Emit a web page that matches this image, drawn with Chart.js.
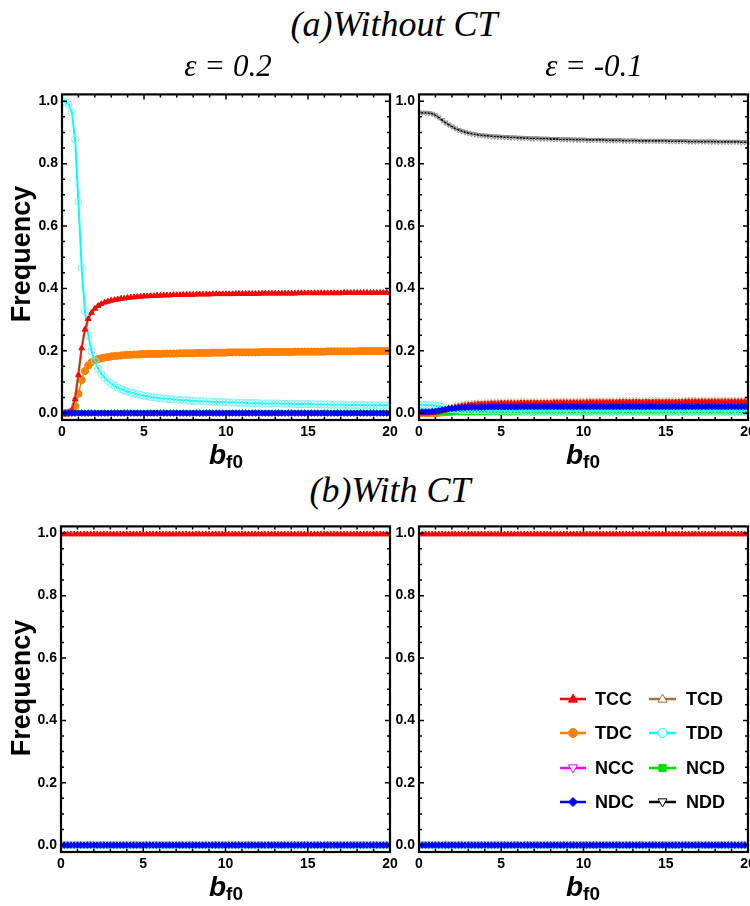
<!DOCTYPE html>
<html>
<head>
<meta charset="utf-8">
<script src="https://cdn.jsdelivr.net/npm/chart.js"></script>
<style>
body { margin:0; width:750px; height:906px; overflow:hidden; background:#fff; position:relative; font-family:"Liberation Sans", Arial, sans-serif; }
canvas { position:absolute; }
.t { position:absolute; white-space:nowrap; transform:translateX(-50%); line-height:1; color:#000; }
.serif { font-family:"Liberation Serif", "Times New Roman", serif; font-style:italic; }
.ylab { position:absolute; font-weight:bold; font-size:27px; line-height:1; transform:translate(-50%,-50%) rotate(-90deg); white-space:nowrap; }
.xlab { font-weight:bold; font-size:28px; font-style:italic; }
.xlab span { font-size:19px; font-style:normal; position:relative; top:4px; }
</style>
</head>
<body>
<canvas id="aL" width="392" height="368" style="left:10px;top:82px"></canvas>
<canvas id="aR" width="380" height="368" style="left:380px;top:82px"></canvas>
<canvas id="bL" width="392" height="368" style="left:10px;top:514px"></canvas>
<canvas id="bR" width="380" height="368" style="left:380px;top:514px"></canvas>

<div class="t serif" style="left:394px;top:6px;font-size:36px">(a)Without CT</div>
<div class="t serif" style="left:228px;top:50px;font-size:31px">ε = 0.2</div>
<div class="t serif" style="left:594px;top:50px;font-size:31px">ε = -0.1</div>
<div class="t serif" style="left:390px;top:472px;font-size:36px">(b)With CT</div>
<div class="ylab" style="left:21px;top:254px">Frequency</div>
<div class="ylab" style="left:21px;top:688px">Frequency</div>
<div class="t xlab" style="left:226px;top:441px">b<span>f0</span></div>
<div class="t xlab" style="left:583px;top:441px">b<span>f0</span></div>
<div class="t xlab" style="left:226px;top:873px">b<span>f0</span></div>
<div class="t xlab" style="left:583px;top:873px">b<span>f0</span></div>

<script>
// b_f0 sample points
const bf0 = [0,
  0.2,0.4,0.6,0.8,1, 1.2,1.4,1.6,1.8,2, 2.2,2.4,2.6,2.8,3, 3.2,3.4,3.6,3.8,4, 4.2,4.4,4.6,4.8,5,
  5.2,5.4,5.6,5.8,6, 6.2,6.4,6.6,6.8,7, 7.2,7.4,7.6,7.8,8, 8.2,8.4,8.6,8.8,9, 9.2,9.4,9.6,9.8,10,
  10.2,10.4,10.6,10.8,11, 11.2,11.4,11.6,11.8,12, 12.2,12.4,12.6,12.8,13, 13.2,13.4,13.6,13.8,14, 14.2,14.4,14.6,14.8,15,
  15.2,15.4,15.6,15.8,16, 16.2,16.4,16.6,16.8,17, 17.2,17.4,17.6,17.8,18, 18.2,18.4,18.6,18.8,19, 19.2,19.4,19.6,19.8,20];

const seriesNames = ['TCC', 'TCD', 'TDC', 'TDD', 'NCC', 'NCD', 'NDC', 'NDD'];

const zero = [0,
  0,0,0,0,0, 0,0,0,0,0, 0,0,0,0,0, 0,0,0,0,0, 0,0,0,0,0,
  0,0,0,0,0, 0,0,0,0,0, 0,0,0,0,0, 0,0,0,0,0, 0,0,0,0,0,
  0,0,0,0,0, 0,0,0,0,0, 0,0,0,0,0, 0,0,0,0,0, 0,0,0,0,0,
  0,0,0,0,0, 0,0,0,0,0, 0,0,0,0,0, 0,0,0,0,0, 0,0,0,0,0];

// (a) without CT, eps = 0.2
const aL_TCC = [0,
  0,0.002,0.01,0.045,0.122, 0.208,0.268,0.302,0.322,0.335, 0.344,0.35,0.355,0.358,0.361, 0.363,0.365,0.367,0.368,0.37, 0.371,0.372,0.373,0.374,0.375,
  0.375,0.376,0.376,0.377,0.377, 0.378,0.378,0.378,0.379,0.379, 0.379,0.38,0.38,0.38,0.38, 0.381,0.381,0.381,0.381,0.381, 0.382,0.382,0.382,0.382,0.382,
  0.382,0.382,0.383,0.383,0.383, 0.383,0.383,0.383,0.383,0.383, 0.384,0.384,0.384,0.384,0.384, 0.384,0.384,0.384,0.384,0.384, 0.384,0.385,0.385,0.385,0.385,
  0.385,0.385,0.385,0.385,0.385, 0.385,0.385,0.385,0.385,0.385, 0.386,0.386,0.386,0.386,0.386, 0.386,0.386,0.386,0.386,0.386, 0.386,0.386,0.386,0.386,0.386];
const aL_TCD = [0,
  0,0.003,0.012,0.05,0.125, 0.21,0.268,0.301,0.321,0.334, 0.344,0.35,0.355,0.358,0.361, 0.363,0.365,0.367,0.368,0.37, 0.371,0.372,0.373,0.374,0.375,
  0.375,0.376,0.376,0.377,0.377, 0.378,0.378,0.378,0.379,0.379, 0.379,0.38,0.38,0.38,0.38, 0.381,0.381,0.381,0.381,0.381, 0.382,0.382,0.382,0.382,0.382,
  0.382,0.382,0.383,0.383,0.383, 0.383,0.383,0.383,0.383,0.383, 0.384,0.384,0.384,0.384,0.384, 0.384,0.384,0.384,0.384,0.384, 0.384,0.385,0.385,0.385,0.385,
  0.385,0.385,0.385,0.385,0.385, 0.385,0.385,0.385,0.385,0.385, 0.386,0.386,0.386,0.386,0.386, 0.386,0.386,0.386,0.386,0.386, 0.386,0.386,0.386,0.386,0.386];
const aL_TDC = [0,
  0,0.001,0.006,0.022,0.062, 0.106,0.135,0.153,0.163,0.169, 0.173,0.176,0.178,0.18,0.182, 0.183,0.184,0.185,0.186,0.187, 0.187,0.188,0.188,0.189,0.189,
  0.19,0.19,0.19,0.19,0.19, 0.191,0.191,0.191,0.191,0.191, 0.192,0.192,0.192,0.192,0.192, 0.193,0.193,0.193,0.193,0.193, 0.194,0.194,0.194,0.194,0.194,
  0.195,0.195,0.195,0.195,0.195, 0.195,0.195,0.195,0.195,0.195, 0.196,0.196,0.196,0.196,0.196, 0.196,0.196,0.196,0.196,0.196, 0.197,0.197,0.197,0.197,0.197,
  0.197,0.197,0.197,0.197,0.197, 0.198,0.198,0.198,0.198,0.198, 0.198,0.198,0.198,0.198,0.198, 0.199,0.199,0.199,0.199,0.199, 0.199,0.199,0.199,0.199,0.199];
const aL_TDD = [1.0,
  0.998,0.99,0.965,0.877,0.678, 0.466,0.328,0.25,0.2,0.167, 0.143,0.126,0.113,0.103,0.095, 0.088,0.082,0.077,0.073,0.069, 0.066,0.063,0.06,0.058,0.056,
  0.054,0.052,0.051,0.049,0.048, 0.047,0.046,0.045,0.044,0.043, 0.042,0.041,0.041,0.04,0.039, 0.039,0.038,0.038,0.037,0.037, 0.036,0.036,0.035,0.035,0.035,
  0.034,0.034,0.034,0.033,0.033, 0.033,0.032,0.032,0.032,0.032, 0.031,0.031,0.031,0.031,0.031, 0.031,0.03,0.03,0.03,0.03, 0.029,0.029,0.029,0.029,0.029,
  0.029,0.028,0.028,0.028,0.028, 0.028,0.027,0.027,0.027,0.027, 0.027,0.026,0.026,0.026,0.026, 0.026,0.026,0.025,0.025,0.025, 0.025,0.025,0.025,0.025,0.025];

// (a) without CT, eps = -0.1
const aR_TCC = [0,
  0,0,0,0.001,0.002, 0.004,0.007,0.01,0.013,0.016, 0.018,0.02,0.022,0.023,0.025, 0.026,0.027,0.028,0.028,0.029, 0.029,0.03,0.03,0.03,0.031,
  0.031,0.031,0.031,0.031,0.031, 0.032,0.032,0.032,0.032,0.032, 0.032,0.032,0.032,0.032,0.032, 0.033,0.033,0.033,0.033,0.033, 0.033,0.033,0.033,0.033,0.033,
  0.034,0.034,0.034,0.034,0.034, 0.034,0.034,0.034,0.034,0.034, 0.035,0.035,0.035,0.035,0.035, 0.035,0.035,0.035,0.035,0.035, 0.035,0.035,0.035,0.035,0.035,
  0.035,0.035,0.035,0.035,0.035, 0.036,0.036,0.036,0.036,0.036, 0.036,0.036,0.036,0.036,0.036, 0.036,0.036,0.036,0.036,0.036, 0.036,0.036,0.036,0.036,0.036];
const aR_TCD = [0,
  0,0,0,0.001,0.003, 0.006,0.01,0.014,0.018,0.021, 0.024,0.026,0.028,0.03,0.031, 0.032,0.033,0.034,0.034,0.035, 0.035,0.036,0.036,0.036,0.037,
  0.037,0.037,0.037,0.037,0.037, 0.038,0.038,0.038,0.038,0.038, 0.038,0.038,0.038,0.038,0.038, 0.039,0.039,0.039,0.039,0.039, 0.039,0.039,0.039,0.039,0.039,
  0.04,0.04,0.04,0.04,0.04, 0.04,0.04,0.04,0.04,0.04, 0.041,0.041,0.041,0.041,0.041, 0.041,0.041,0.041,0.041,0.041, 0.041,0.041,0.041,0.041,0.041,
  0.041,0.041,0.041,0.041,0.041, 0.042,0.042,0.042,0.042,0.042, 0.042,0.042,0.042,0.042,0.042, 0.042,0.042,0.042,0.042,0.042, 0.042,0.042,0.042,0.042,0.042];
const aR_TDC = [0,
  0,0,0,0,0, 0.001,0.002,0.003,0.004,0.005, 0.006,0.006,0.006,0.006,0.006, 0.007,0.007,0.007,0.007,0.007, 0.007,0.007,0.007,0.007,0.007,
  0.008,0.008,0.008,0.008,0.008, 0.008,0.008,0.008,0.008,0.008, 0.008,0.008,0.008,0.008,0.008, 0.008,0.008,0.008,0.008,0.008, 0.008,0.008,0.008,0.008,0.008,
  0.008,0.008,0.008,0.008,0.008, 0.008,0.008,0.008,0.008,0.008, 0.008,0.008,0.008,0.008,0.008, 0.008,0.008,0.008,0.008,0.008, 0.008,0.008,0.008,0.008,0.008,
  0.008,0.008,0.008,0.008,0.008, 0.008,0.008,0.008,0.008,0.008, 0.008,0.008,0.008,0.008,0.008, 0.008,0.008,0.008,0.008,0.008, 0.008,0.008,0.008,0.008,0.008];
const aR_TDD = [0.026,
  0.026,0.026,0.026,0.025,0.024, 0.022,0.02,0.017,0.015,0.013, 0.012,0.011,0.01,0.01,0.009, 0.009,0.009,0.009,0.009,0.009, 0.008,0.008,0.008,0.008,0.008,
  0.008,0.008,0.008,0.008,0.008, 0.007,0.007,0.007,0.007,0.007, 0.007,0.007,0.007,0.007,0.007, 0.007,0.007,0.007,0.007,0.007, 0.007,0.007,0.007,0.007,0.007,
  0.007,0.007,0.007,0.007,0.007, 0.007,0.007,0.007,0.007,0.007, 0.007,0.007,0.007,0.007,0.007, 0.007,0.007,0.007,0.007,0.007, 0.007,0.007,0.007,0.007,0.007,
  0.007,0.007,0.007,0.007,0.007, 0.007,0.007,0.007,0.007,0.007, 0.007,0.007,0.007,0.007,0.007, 0.007,0.007,0.007,0.007,0.007, 0.007,0.007,0.007,0.007,0.007];
const aR_NCD = [0.001,
  0.001,0.001,0.001,0.001,0.001, 0.002,0.002,0.002,0.002,0.002, 0.003,0.003,0.003,0.003,0.003, 0.003,0.003,0.003,0.003,0.003, 0.003,0.003,0.003,0.003,0.003,
  0.003,0.003,0.003,0.003,0.003, 0.003,0.003,0.003,0.003,0.003, 0.003,0.003,0.003,0.003,0.003, 0.003,0.003,0.003,0.003,0.003, 0.003,0.003,0.003,0.003,0.003,
  0.003,0.003,0.003,0.003,0.003, 0.003,0.003,0.003,0.003,0.003, 0.003,0.003,0.003,0.003,0.003, 0.003,0.003,0.003,0.003,0.003, 0.003,0.003,0.003,0.003,0.003,
  0.003,0.003,0.003,0.003,0.003, 0.003,0.003,0.003,0.003,0.003, 0.003,0.003,0.003,0.003,0.003, 0.003,0.003,0.003,0.003,0.003, 0.003,0.003,0.003,0.003,0.003];
const aR_NDC = [0.004,
  0.004,0.004,0.004,0.005,0.006, 0.008,0.01,0.012,0.014,0.015, 0.016,0.017,0.018,0.018,0.019, 0.019,0.019,0.019,0.019,0.019, 0.02,0.02,0.02,0.02,0.02,
  0.02,0.02,0.02,0.02,0.02, 0.021,0.021,0.021,0.021,0.021, 0.021,0.021,0.021,0.021,0.021, 0.021,0.021,0.021,0.021,0.021, 0.021,0.021,0.021,0.021,0.021,
  0.021,0.021,0.021,0.021,0.021, 0.021,0.021,0.021,0.021,0.021, 0.021,0.021,0.021,0.021,0.021, 0.021,0.021,0.021,0.021,0.021, 0.021,0.021,0.021,0.021,0.021,
  0.021,0.021,0.021,0.021,0.021, 0.021,0.021,0.021,0.021,0.021, 0.021,0.021,0.021,0.021,0.021, 0.021,0.021,0.021,0.021,0.021, 0.021,0.021,0.021,0.021,0.021];
const aR_NDD = [0.963,
  0.963,0.963,0.962,0.96,0.955, 0.948,0.94,0.932,0.925,0.919, 0.913,0.908,0.904,0.901,0.898, 0.896,0.894,0.892,0.891,0.89, 0.889,0.888,0.887,0.887,0.886,
  0.885,0.885,0.884,0.884,0.883, 0.883,0.882,0.882,0.881,0.881, 0.881,0.88,0.88,0.88,0.879, 0.879,0.879,0.878,0.878,0.878, 0.878,0.877,0.877,0.877,0.877,
  0.876,0.876,0.876,0.876,0.876, 0.876,0.875,0.875,0.875,0.875, 0.875,0.874,0.874,0.874,0.874, 0.874,0.873,0.873,0.873,0.873, 0.873,0.873,0.873,0.873,0.873,
  0.872,0.872,0.872,0.872,0.872, 0.872,0.871,0.871,0.871,0.871, 0.871,0.871,0.871,0.871,0.871, 0.87,0.87,0.87,0.87,0.87, 0.87,0.87,0.869,0.869,0.869];

// (b) with CT (both eps values)
const b_TCC = [0.997,
  0.997,0.997,0.997,0.997,0.997, 0.997,0.997,0.997,0.997,0.997, 0.997,0.997,0.997,0.997,0.997, 0.997,0.997,0.997,0.997,0.997, 0.997,0.997,0.997,0.997,0.997,
  0.997,0.997,0.997,0.997,0.997, 0.997,0.997,0.997,0.997,0.997, 0.997,0.997,0.997,0.997,0.997, 0.997,0.997,0.997,0.997,0.997, 0.997,0.997,0.997,0.997,0.997,
  0.997,0.997,0.997,0.997,0.997, 0.997,0.997,0.997,0.997,0.997, 0.997,0.997,0.997,0.997,0.997, 0.997,0.997,0.997,0.997,0.997, 0.997,0.997,0.997,0.997,0.997,
  0.997,0.997,0.997,0.997,0.997, 0.997,0.997,0.997,0.997,0.997, 0.997,0.997,0.997,0.997,0.997, 0.997,0.997,0.997,0.997,0.997, 0.997,0.997,0.997,0.997,0.997];

const xMajor = [0, 5, 10, 15, 20];
const xMinor = [1, 2, 3, 4, 6, 7, 8, 9, 11, 12, 13, 14, 16, 17, 18, 19];
const yMajor = [0, 0.2, 0.4, 0.6, 0.8, 1.0];
const yMinor = [0.05, 0.1, 0.15, 0.25, 0.3, 0.35, 0.45, 0.5, 0.55, 0.65, 0.7, 0.75, 0.85, 0.9, 0.95];

// lower order = drawn on top
const styles = {
  TCC: { color: '#ff0000', fill: '#ff0000', shape: 'triangle', rot: 0, r: 3.2, order: 1, lw: 1 },
  TCD: { color: '#a0703c', fill: 'rgba(0,0,0,0)', shape: 'triangle', rot: 0, r: 3, order: 2, lw: 2.4, pcolor: '#d9b08c' },
  TDC: { color: '#ff8000', fill: '#ff8000', shape: 'circle', rot: 0, r: 3.6, order: 5.5, lw: 1.5 },
  TDD: { color: '#00ffff', fill: 'rgba(0,0,0,0)', shape: 'circle', rot: 0, r: 3.6, order: 4, lw: 2, pcolor: '#80f0f0' },
  NCC: { color: '#ff00ff', fill: 'rgba(0,0,0,0)', shape: 'triangle', rot: 180, r: 3, order: 7, lw: 1.5, pcolor: '#ff99ff' },
  NCD: { color: '#00e000', fill: '#00e000', shape: 'rect', rot: 0, r: 3.2, order: 5, lw: 1.5 },
  NDC: { color: '#0000ff', fill: '#0000ff', shape: 'rectRot', rot: 0, r: 3.2, order: 0, lw: 1.5 },
  NDD: { color: '#000000', fill: 'rgba(0,0,0,0)', shape: 'triangle', rot: 180, r: 3, order: 6, lw: 1.8, pcolor: '#8a8a8a' }
};

function mk(name, vals) {
  const st = styles[name];
  return {
    label: name,
    data: vals.map((v, i) => ({ x: bf0[i], y: v })),
    borderColor: st.color,
    borderWidth: st.lw,
    backgroundColor: st.fill,
    pointBorderColor: st.pcolor || st.color,
    pointBackgroundColor: st.fill,
    pointStyle: st.shape,
    pointRotation: st.rot,
    pointRadius: st.r,
    pointBorderWidth: 1,
    order: st.order
  };
}

const framePlugin = {
  id: 'frame',
  afterDraw(chart) {
    const { ctx, chartArea: a, scales: { x, y } } = chart;
    ctx.save();
    ctx.strokeStyle = '#000';
    ctx.lineWidth = 1.5;
    ctx.beginPath();
    function tx(v, len) {
      const px = x.getPixelForValue(v);
      ctx.moveTo(px, a.bottom); ctx.lineTo(px, a.bottom - len);
      ctx.moveTo(px, a.top); ctx.lineTo(px, a.top + len);
    }
    function ty(v, len) {
      const py = y.getPixelForValue(v);
      ctx.moveTo(a.left, py); ctx.lineTo(a.left + len, py);
      ctx.moveTo(a.right, py); ctx.lineTo(a.right - len, py);
    }
    xMajor.forEach(v => tx(v, 5));
    xMinor.forEach(v => tx(v, 3));
    yMajor.forEach(v => ty(v, 5));
    yMinor.forEach(v => ty(v, 3));
    ctx.stroke();
    ctx.lineWidth = 2.2;
    ctx.strokeRect(a.left, a.top, a.right - a.left, a.bottom - a.top);
    ctx.restore();
  }
};

function drawMarker(ctx, shape, rot, cx, cy, r) {
  ctx.beginPath();
  if (shape === 'circle') {
    ctx.arc(cx, cy, r, 0, Math.PI * 2);
  } else if (shape === 'triangle') {
    const s = rot ? -1 : 1;
    ctx.moveTo(cx, cy - s * r * 1.1);
    ctx.lineTo(cx - r, cy + s * r * 0.7);
    ctx.lineTo(cx + r, cy + s * r * 0.7);
    ctx.closePath();
  } else if (shape === 'rect') {
    ctx.rect(cx - r * 0.8, cy - r * 0.8, r * 1.6, r * 1.6);
  } else {
    ctx.moveTo(cx, cy - r); ctx.lineTo(cx + r, cy); ctx.lineTo(cx, cy + r); ctx.lineTo(cx - r, cy);
    ctx.closePath();
  }
  ctx.fill();
  ctx.stroke();
}

const legendPlugin = {
  id: 'keyBox',
  afterDraw(chart) {
    const ctx = chart.ctx;
    const rows = [185, 219, 254, 288];
    const cols = [{ x0: 180, x1: 206, tx: 215 }, { x0: 269, x1: 296, tx: 306 }];
    ctx.save();
    seriesNames.forEach((name, i) => {
      const st = styles[name];
      const c = cols[i % 2], y = rows[Math.floor(i / 2)];
      ctx.strokeStyle = st.color;
      ctx.lineWidth = 2.5;
      ctx.beginPath(); ctx.moveTo(c.x0, y); ctx.lineTo(c.x1, y); ctx.stroke();
      ctx.lineWidth = 1;
      ctx.fillStyle = st.fill === 'rgba(0,0,0,0)' ? '#ffffff' : st.fill;
      ctx.strokeStyle = st.color;
      drawMarker(ctx, st.shape, st.rot, (c.x0 + c.x1) / 2, y, 4.5);
      ctx.fillStyle = '#000';
      ctx.font = 'bold 18px "Liberation Sans", Arial, sans-serif';
      ctx.textBaseline = 'middle';
      ctx.fillText(name, c.tx, y + 1);
    });
    ctx.restore();
  }
};

const tickFont = { size: 14, weight: 'bold', family: '"Liberation Sans", Arial, sans-serif' };

function makeChart(id, sets, yW, withKey) {
  const plugins = [framePlugin];
  if (withKey) plugins.push(legendPlugin);
  return new Chart(document.getElementById(id), {
    type: 'line',
    data: { datasets: sets },
    options: {
      responsive: false,
      animation: false,
      events: [],
      layout: { padding: { top: 10, right: 12, left: 0, bottom: 0 } },
      plugins: { legend: { display: false }, tooltip: { enabled: false } },
      scales: {
        x: {
          type: 'linear', min: 0, max: 20,
          afterFit: s => { s.height = 30; },
          grid: { display: false, drawTicks: false },
          border: { display: false },
          ticks: { stepSize: 5, includeBounds: false, padding: 4, color: '#000', font: tickFont, maxRotation: 0 }
        },
        y: {
          min: -0.022, max: 1.022,
          afterFit: s => { s.width = yW; },
          grid: { display: false, drawTicks: false },
          border: { display: false },
          ticks: { stepSize: 0.2, includeBounds: false, padding: 4, color: '#000', font: tickFont, callback: v => v.toFixed(1) }
        }
      }
    },
    plugins
  });
}

makeChart('aL', [
  mk('TCC', aL_TCC), mk('TCD', aL_TCD), mk('TDC', aL_TDC), mk('TDD', aL_TDD),
  mk('NCC', zero), mk('NCD', zero), mk('NDC', zero), mk('NDD', zero)
], 52, false);
makeChart('aR', [
  mk('TCC', aR_TCC), mk('TCD', aR_TCD), mk('TDC', aR_TDC), mk('TDD', aR_TDD),
  mk('NCC', zero), mk('NCD', aR_NCD), mk('NDC', aR_NDC), mk('NDD', aR_NDD)
], 39, false);
makeChart('bL', [
  mk('TCC', b_TCC), mk('TCD', zero), mk('TDC', zero), mk('TDD', zero),
  mk('NCC', zero), mk('NCD', zero), mk('NDC', zero), mk('NDD', zero)
], 51, false);
makeChart('bR', [
  mk('TCC', b_TCC), mk('TCD', zero), mk('TDC', zero), mk('TDD', zero),
  mk('NCC', zero), mk('NCD', zero), mk('NDC', zero), mk('NDD', zero)
], 39, true);
</script>
</body>
</html>
